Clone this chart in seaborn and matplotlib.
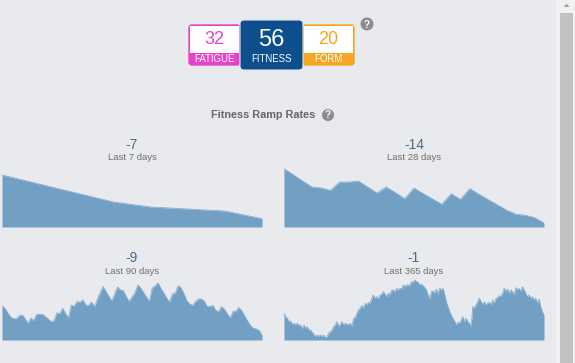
import numpy as np
import pandas as pd
import matplotlib
matplotlib.use("Agg")
import matplotlib.pyplot as plt
from matplotlib.patches import FancyBboxPatch, Rectangle, Circle, Polygon
import seaborn as sns

sns.set_theme(style="white")
plt.rcParams["font.family"] = ["Liberation Sans", "DejaVu Sans"]

BG = "#e9eaed"
FILL = "#729fc4"

# summary boxes
summary_labels = ["FATIGUE", "FITNESS", "FORM"]
summary_values = [32, 56, 20]
summary_colors = ["#e544c9", "#0c4f8c", "#f5a623"]

# ramp rate panels
ramp_titles = ["Last 7 days", "Last 28 days", "Last 90 days", "Last 365 days"]
ramp_days = [7, 28, 90, 365]
ramp_rates = [-7, -14, -9, -1]

fitness_7 = [52, 43, 34, 25, 20, 18, 16, 8.3]

fitness_28 = [58.3, 52.2, 46, 40, 39, 36.7, 45, 45, 46, 40, 34, 40, 34.3, 28.3, 39,
              33.3, 28, 22.7, 33.3, 27.7, 38.3, 32.7, 27.3, 22, 16.7, 12.7, 11.7, 9.3, 4]

fitness_90 = [34.3, 31.7, 27, 23, 21.3, 21.3, 24.3, 25, 21.5, 16.5, 22, 19.5, 25.7, 25.7,
              25.7, 23.5, 21, 18.5, 19, 27, 26.5, 31.7, 26.5, 22, 35, 33.5, 38.5, 37.7,
              40, 35, 34.5, 38, 33.3, 40.5, 47.5, 53.5, 48.5, 43.7, 39, 46, 53, 50, 49.3,
              43.5, 38.5, 43, 47, 55, 52, 47.5, 43, 38.5, 52, 54, 57, 51.5, 47, 42, 38,
              46, 47, 54.3, 52, 46, 39, 36, 34.5, 38.5, 41, 41, 39, 33.5, 33.5, 34.5,
              29.5, 28.5, 33.3, 30.5, 26, 22, 28.5, 29, 32.5, 29, 24, 19, 14.5, 11.7,
              11, 9.5, 5]

fitness_365 = [26.7, 23.3, 21.7, 18.3, 19, 15.7, 16.7, 15, 16.7, 14.3, 15, 11, 15, 11.7,
               13.3, 10, 10, 7.7, 5.7, 3.3, 5, 3.3, 5, 3.3, 5, 2.3, 3.3, 6.7, 8.3, 10,
               13.3, 15, 18.3, 13.3, 15.7, 18.3, 15, 16.7, 15.7, 15, 16.7, 13.3, 21.7,
               22.3, 26.7, 30, 31.7, 34.3, 31.7, 36.7, 35, 37.7, 36.7, 41.7, 45, 41.7,
               43.3, 41, 45, 45.7, 48.3, 45.7, 43.3, 46.7, 45, 50, 50, 48.3, 51.7, 50,
               51.7, 51, 55, 53.3, 55, 55, 54.3, 58.3, 57.7, 60, 58.3,
               57.7, 55, 55.7, 54.3, 52.3, 50, 45, 41, 48.3, 49, 46.7, 51, 45.7, 51.7,
               50, 51.7, 45.7, 38.3, 33.3, 28.3, 25, 21.7, 19, 15, 17.7, 16.7, 20, 23.3,
               18.3, 21.7, 18.3, 16.7, 13.3, 33.3, 31.7, 35, 38.3, 41.7, 38.3, 35.7,
               38.3, 35, 36.7, 37.7, 35, 40, 36.7, 41.7, 42.3, 44.3, 43.3, 46.7, 51.7,
               48.3, 51, 46.7, 50, 48.3, 45, 52.3, 50, 51.7, 48.3, 53.3, 50, 46.7, 43.3,
               45, 41.7, 43.3, 40, 41.7, 36.7, 41, 33.3, 28.3, 25]

ramp_series = [fitness_7, fitness_28, fitness_90, fitness_365]

W, H = 575, 363
fig = plt.figure(figsize=(W / 100, H / 100), dpi=100)
fig.patch.set_facecolor(BG)

# panel boxes in pixel coords: left, baseline
panel_pos = [(2, 227), (284, 227), (2, 340), (284, 340)]
PW, PH = 260, 62

for (left, base), vals, days in zip(panel_pos, ramp_series, ramp_days):
    ax = fig.add_axes([left / W, (H - base) / H, PW / W, PH / H])
    df = pd.DataFrame({"day": np.linspace(0, days, len(vals)), "fitness": vals})
    ax.fill_between(df["day"], df["fitness"], color=FILL, lw=0)
    sns.lineplot(data=df, x="day", y="fitness", color="#86acce", lw=0.6, ax=ax)
    ax.set_xlim(0, days)
    ax.set_ylim(0, PH)
    ax.axis("off")

# overlay in pixel coords for text and boxes
ov = fig.add_axes([0, 0, 1, 1])
ov.set_xlim(0, W)
ov.set_ylim(H, 0)
ov.axis("off")

# side boxes
for i in [0, 2]:
    x0 = 189 if i == 0 else 303
    c = summary_colors[i]
    ov.add_patch(FancyBboxPatch((x0, 25), 51, 40, boxstyle="round,pad=0,rounding_size=3",
                                fc=c, ec=c, lw=1))
    ov.add_patch(Rectangle((x0 + 1, 26), 49, 27, fc="white", ec="none"))
    ov.text(x0 + 25.5, 39, str(summary_values[i]), color=c, fontsize=13,
            ha="center", va="center")
    ov.text(x0 + 25.5, 59, summary_labels[i], color="white", fontsize=6.9,
            ha="center", va="center")

# middle box
c = summary_colors[1]
ov.add_patch(FancyBboxPatch((240, 20), 63, 50, boxstyle="round,pad=0,rounding_size=4",
                            fc=c, ec="#dfe6ee", lw=0.8))
ov.text(271.5, 40, str(summary_values[1]), color="white", fontsize=17,
        ha="center", va="center")
ov.text(271.5, 58.5, summary_labels[1], color="white", fontsize=6.9,
        ha="center", va="center")

# help icons
for cx, cy, r in [(367, 24, 6.5), (328, 115, 6)]:
    ov.add_patch(Circle((cx, cy), r, fc="#8c8c8c", ec="none"))
    ov.text(cx, cy + 0.5, "?", color="white", fontsize=7, fontweight="bold",
            ha="center", va="center")

ov.text(263, 115, "Fitness Ramp Rates", color="#666666", fontsize=7.8,
        fontweight="bold", ha="center", va="center")

# panel titles
for (left, base), rate, title in zip(panel_pos, ramp_rates, ramp_titles):
    cx = left + PW / 2
    ov.text(cx, base - 82, str(rate), color="#4a6a8c", fontsize=10,
            ha="center", va="center")
    ov.text(cx, base - 69, title, color="#6f6f6f", fontsize=6.8,
            ha="center", va="center")

# scrollbar
ov.add_patch(Rectangle((556, 0), 19, H, fc="#f1f1f1", ec="none"))
ov.add_patch(Rectangle((560, 13), 13, H - 13, fc="#c1c1c1", ec="none"))
ov.add_patch(Polygon([(563.5, 7), (569.5, 7), (566.5, 3.5)], closed=True,
                     fc="#a3a3a3", ec="none"))

fig.savefig("out.png", dpi=100, facecolor=BG)
